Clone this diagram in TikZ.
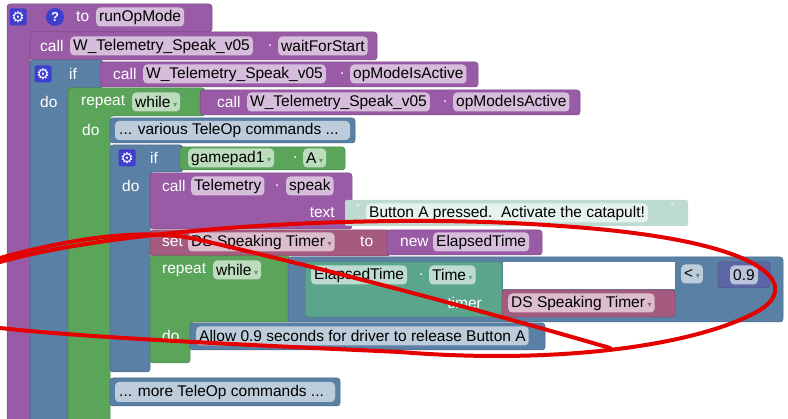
\documentclass[tikz,border=0pt]{standalone}
\usepackage{fontspec}
\setmainfont{Liberation Sans}
\newfontfamily\djv{DejaVu Sans}
\definecolor{bp}{HTML}{995BA5}
\definecolor{bb}{HTML}{5B80A5}
\definecolor{bg}{HTML}{5BA55B}
\definecolor{bt}{HTML}{5BA58C}
\definecolor{br}{HTML}{A55B80}
\definecolor{bn}{HTML}{5B67A5}
\definecolor{ic}{HTML}{3E3ECF}
\tikzset{
 blk/.style={fill=#1,draw=#1!80!black,line width=0.5pt,rounded corners=3pt},
 fld/.style={fill=#1!40!white,rounded corners=4pt,inner xsep=3pt,inner ysep=1pt,text=black,anchor=west,minimum height=19pt,font=\fontsize{15.5}{18}\selectfont},
 lbl/.style={text=white,anchor=west,inner sep=0pt,font=\fontsize{15.5}{18}\selectfont},
 gear/.style={fill=ic,rounded corners=2pt,minimum size=17pt,inner sep=0pt,text=white,font=\djv\fontsize{15}{15}\selectfont},
}
\newcommand\dda[1]{\,{\djv\fontsize{8}{8}\selectfont\textcolor{#1}{▾}}}
\begin{document}
\begin{tikzpicture}[x=1pt,y=-1pt]
\useasboundingbox (0,0) rectangle (788,419);
\fill[white] (0,0) rectangle (788,419);
% outer procedure
\draw[blk=bp] (7,4) -- (212,4) -- (212,32) -- (30,32) -- (30,425) -- (7,425) -- cycle;
\node[gear] (g1) at (18,17) {⚙};
\node[circle,fill=ic,minimum size=18pt,inner sep=0pt,text=white,font=\bfseries\fontsize{13}{13}\selectfont] (q1) at (55,17) {?};
\node[lbl] (to) at (76,17) {to};
\node[fld=bp] (rom) at (96,17) {runOpMode};
% call waitForStart
\draw[blk=bp] (30,32) rectangle (377,60);
\node[lbl] at (40,46) {call};
\node[fld=bp] at (70,46) {W\_Telemetry\_Speak\_v05};
\node[lbl] at (268,46) {.};
\node[fld=bp] at (278,46) {waitForStart};
% outer if
\draw[blk=bb] (30,60) -- (103,60) -- (103,88) -- (68,88) -- (68,425) -- (30,425) -- cycle;
\node[gear] at (43,74) {⚙};
\node[lbl] at (69,74) {if};
\draw[blk=bp] (100,62) rectangle (478,87);
\node[lbl] at (113,74) {call};
\node[fld=bp] at (143,74) {W\_Telemetry\_Speak\_v05};
\node[lbl] at (340,74) {.};
\node[fld=bp] at (350,74) {opModeIsActive};
\node[lbl] at (40,102) {do};
% repeat while
\draw[blk=bg] (68,88) -- (205,88) -- (205,116) -- (110,116) -- (110,425) -- (68,425) -- cycle;
\node[lbl] at (81,102) {repeat};
\node[fld=bg] at (132,102) {while\dda{bg}};
\draw[blk=bp] (200,90) rectangle (580,115);
\node[lbl] at (217,102) {call};
\node[fld=bp] at (247,102) {W\_Telemetry\_Speak\_v05};
\node[lbl] at (443,102) {.};
\node[fld=bp] at (453,102) {opModeIsActive};
\node[lbl] at (82,130) {do};
% various comment
\draw[blk=bb] (110,118) rectangle (355,143);
\fill[bb!40!white,rounded corners=4pt] (115,121) rectangle (350,140);
\node[fld=bb,fill=none] at (116,130) {... various TeleOp commands ...};
% inner if
\draw[blk=bb] (110,145) -- (183,145) -- (183,172) -- (150,172) -- (150,372) -- (110,372) -- cycle;
\node[gear] at (127,158) {⚙};
\node[lbl] at (150,158) {if};
\draw[blk=bg] (180,147) rectangle (345,170);
\node[fld=bg] at (188,158) {gamepad1\dda{bg}};
\node[lbl] at (293,158) {.};
\node[fld=bg] at (303,158) {A\dda{bg}};
\node[lbl] at (122,186) {do};
% call speak
\draw[blk=bp] (150,173) rectangle (352,229);
\node[lbl] at (162,186) {call};
\node[fld=bp] at (191,186) {Telemetry};
\node[lbl] at (275,186) {.};
\node[fld=bp] at (286,186) {speak};
\node[lbl,anchor=east] at (335,213) {text};
\fill[bt!40!white,rounded corners=2pt] (345,200) rectangle (688,226);
\node[anchor=west,inner sep=0pt,text=white,font=\fontsize{11}{11}\selectfont] at (356,208) {“};
\node[fld=bt,fill=white!85!bt] at (366,213) {Button A pressed.\ \ Activate the catapult!};
\node[anchor=west,inner sep=0pt,text=white,font=\fontsize{11}{11}\selectfont] at (671,208) {”};
% set
\draw[blk=br] (150,230) rectangle (390,256);
\node[lbl] at (162,242) {set};
\node[fld=br] at (188,242) {DS Speaking Timer\dda{br}};
\node[lbl] at (360,242) {to};
\draw[blk=bp] (387,230) rectangle (542,255);
\node[lbl] at (400,242) {new};
\node[fld=bp] at (433,242) {ElapsedTime};
% repeat while inner
\draw[blk=bg] (150,256) -- (290,256) -- (290,322) -- (190,322) -- (190,350) -- (150,350) -- cycle;
\draw[blk=bg] (150,345) rectangle (190,363);
\fill[bg] (151,340) rectangle (189,355);
\node[lbl] at (162,270) {repeat};
\node[fld=bg] at (213,270) {while\dda{bg}};
\node[lbl] at (162,336) {do};
% compare
\draw[blk=bb] (288,257) rectangle (783,322);
\draw[blk=bt] (305,262) rectangle (502,317);
\node[fld=bt] at (311,275) {ElapsedTime};
\node[lbl] at (419,275) {.};
\node[fld=bt] at (429,275) {Time\dda{bt}};
\node[lbl,anchor=east] at (482,303) {timer};
\fill[white] (503,262) rectangle (675,289);
\draw[blk=br] (502,290) rectangle (675,317);
\node[fld=br] at (508,303) {DS Speaking Timer\dda{br}};
\node[fld=bb] at (681,274) {<\dda{bb}};
\draw[blk=bn] (718,262) rectangle (770,288);
\node[fld=bn] at (730,275) {0.9};
% Allow comment
\draw[blk=bb] (190,323) rectangle (545,350);
\node[fld=bb] at (196,336) {Allow 0.9 seconds for driver to release Button A};
% more comment
\draw[blk=bb] (110,378) rectangle (340,406);
\fill[bb!40!white,rounded corners=4pt] (115,382) rectangle (335,402);
\node[fld=bb,fill=none] at (116,392) {... more TeleOp commands ...};
% red ellipse
\draw[red!90!black,line width=4pt,line cap=round]
 (0,262) .. controls (120,228) and (380,212) .. (560,226)
 .. controls (770,240) and (800,285) .. (760,310)
 .. controls (700,345) and (560,365) .. (400,352)
 .. controls (250,345) and (90,338) .. (0,328);
\draw[red!90!black,line width=4pt,line cap=round]
 (0,258) .. controls (80,236) and (150,228) .. (200,240)
 .. controls (330,270) and (480,310) .. (610,348);
\end{tikzpicture}
\end{document}
